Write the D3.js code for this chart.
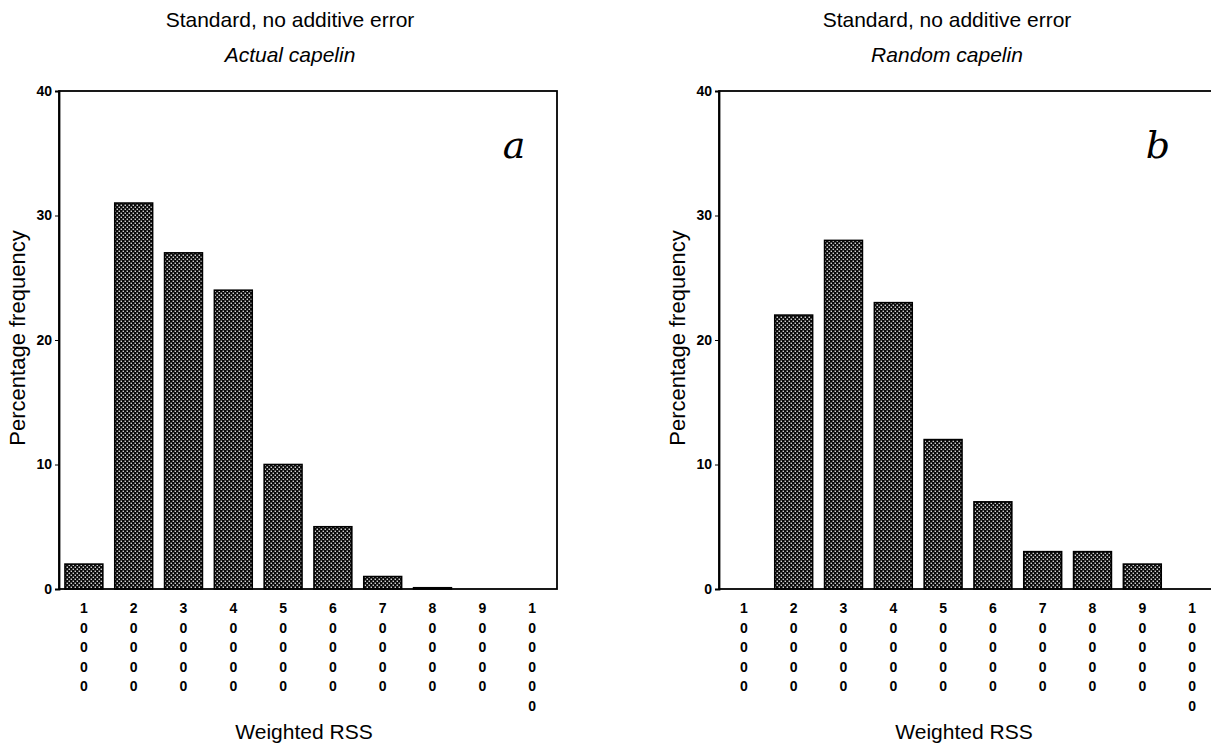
<!DOCTYPE html>
<html>
<head>
<meta charset="utf-8">
<script src="https://cdn.jsdelivr.net/npm/d3@7"></script>
<style>
  html, body { margin: 0; padding: 0; background: #fff; }
  svg { display: block; font-family: "Liberation Sans", Arial, sans-serif; }
</style>
</head>
<body>
<svg id="chart"></svg>
<script>
// ─── Data ──────────────────────────────────────────────────────────────────
const bins = ["10000", "20000", "30000", "40000", "50000", "60000", "70000", "80000", "90000", "100000"];
const actualPct = [2, 31, 27, 24, 10, 5, 1, 0.1, 0, 0];
const randomPct = [0, 22, 28, 23, 12, 7, 3, 3, 2, 0];
const yTicks = [0, 10, 20, 30, 40];

const panels = [
  { title: "Standard, no additive error", sub: "Actual capelin", values: actualPct, tag: "a",
    x0: 59, x1: 557, titleX: 290, tagX: 514 },
  { title: "Standard, no additive error", sub: "Random capelin", values: randomPct, tag: "b",
    x0: 719, x1: 1217, titleX: 947, tagX: 1158 },
];

// ─── Layout ────────────────────────────────────────────────────────────────
const W = 1211, H = 753;
const TOP = 91, BASE = 589;

const svg = d3.select("#chart").attr("width", W).attr("height", H);

// halftone fill used in the bars (dark screen with small light dots)
const pat = svg.append("defs").append("pattern")
  .attr("id", "dots").attr("patternUnits", "userSpaceOnUse")
  .attr("width", 4).attr("height", 4);
pat.append("rect").attr("width", 4).attr("height", 4).attr("fill", "#0a0a0a");
pat.append("rect").attr("x", 0.6).attr("y", 0.6).attr("width", 1.3).attr("height", 1.3).attr("fill", "#fff");
pat.append("rect").attr("x", 2.6).attr("y", 2.6).attr("width", 1.3).attr("height", 1.3).attr("fill", "#fff");

const y = d3.scaleLinear().domain([0, 40]).range([BASE, TOP]);

panels.forEach(p => {
  const g = svg.append("g");
  const x = d3.scaleBand().domain(bins).range([p.x0, p.x1])
    .paddingInner(0.24).paddingOuter(0.12);

  // titles
  g.append("text").attr("x", p.titleX).attr("y", 27)
    .attr("text-anchor", "middle").attr("font-size", "21px").text(p.title);
  g.append("text").attr("x", p.titleX).attr("y", 62)
    .attr("text-anchor", "middle").attr("font-size", "21px").attr("font-style", "italic").text(p.sub);

  // bars
  g.selectAll("rect.bar").data(p.values.map((v, i) => ({ bin: bins[i], v })))
    .join("rect").attr("class", "bar")
    .attr("x", d => x(d.bin))
    .attr("y", d => y(d.v))
    .attr("width", x.bandwidth())
    .attr("height", d => BASE - y(d.v))
    .attr("fill", "url(#dots)")
    .attr("stroke", d => d.v > 0 ? "#000" : "none")
    .attr("stroke-width", 1.6);

  // frame
  g.append("rect").attr("x", p.x0).attr("y", TOP)
    .attr("width", p.x1 - p.x0).attr("height", BASE - TOP)
    .attr("fill", "none").attr("stroke", "#000").attr("stroke-width", 1.8);

  // y axis
  const ya = g.append("g").attr("transform", `translate(${p.x0},0)`)
    .call(d3.axisLeft(y).tickValues(yTicks).tickSize(4).tickPadding(3));
  ya.select(".domain").attr("stroke-width", 1.8);
  ya.selectAll("text").attr("font-size", "14px").attr("font-weight", "bold")
    .attr("font-family", "Liberation Sans, Arial, sans-serif").attr("fill", "#000");

  // x axis: vertical digit stacks
  const xa = g.append("g").attr("transform", `translate(0,${BASE})`)
    .call(d3.axisBottom(x).tickSize(0).tickPadding(0).tickFormat(""));
  xa.select(".domain").remove();
  xa.selectAll(".tick text").each(function(d) {
    const t = d3.select(this).attr("y", 0).attr("dy", null)
      .attr("font-size", "14px").attr("font-weight", "bold")
      .attr("font-family", "Liberation Sans, Arial, sans-serif").attr("fill", "#000");
    d.split("").forEach((c, k) => {
      t.append("tspan").attr("x", 0).attr("y", 24 + k * 19.5).text(c);
    });
  });

  // axis titles
  g.append("text").attr("x", (p.x0 + p.x1) / 2 - 4).attr("y", 739)
    .attr("text-anchor", "middle").attr("font-size", "21px").text("Weighted RSS");
  g.append("text")
    .attr("transform", `translate(${p.x0 - 34},${(TOP + BASE) / 2 - 2}) rotate(-90)`)
    .attr("text-anchor", "middle").attr("font-size", "22px").text("Percentage frequency");

  // handwritten panel letter
  g.append("text").attr("x", p.tagX).attr("y", 158)
    .attr("text-anchor", "middle").attr("font-size", "38px")
    .attr("font-family", "DejaVu Serif, serif").attr("font-style", "italic")
    .text(p.tag);
});
</script>
</body>
</html>
